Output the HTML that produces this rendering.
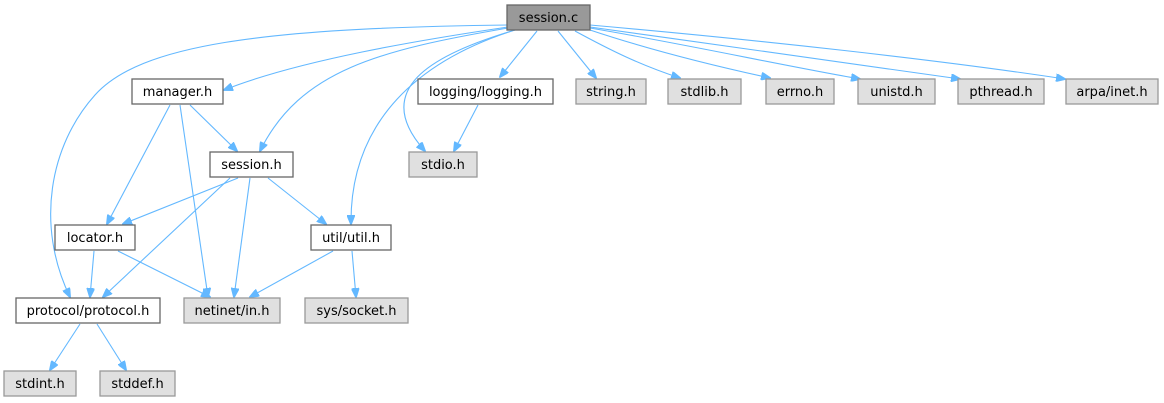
<!DOCTYPE html>
<html><head><meta charset="utf-8"><style>
html,body{margin:0;padding:0;background:#fff;width:1164px;height:403px;overflow:hidden}
text{font-family:"DejaVu Sans","Liberation Sans",sans-serif;font-size:13px;fill:#000;text-anchor:middle}
.w{fill:#fff;stroke:#666;stroke-width:1.3}
.g{fill:#e0e0e0;stroke:#999;stroke-width:1.3}
.r{fill:#999;stroke:#666;stroke-width:1.3}
path{fill:none;stroke:#63b8ff;stroke-width:1.1}
</style></head><body>
<svg width="1164" height="403" viewBox="0 0 1164 403" xmlns="http://www.w3.org/2000/svg">
<defs><marker id="a" markerWidth="10" markerHeight="8" refX="9" refY="4" orient="auto" markerUnits="userSpaceOnUse"><path d="M0,0 L10,4 L0,8 z" style="fill:#63b8ff;stroke:#63b8ff"/></marker></defs>
<g marker-end="url(#a)">
<path d="M508,25 C260,28 140,45 95,95 C50,145 35,225 70,297"/>
<path d="M508,27 C420,40 300,60 224,90"/>
<path d="M508,28 C380,50 300,70 260,151"/>
<path d="M515,30 C420,60 350,120 351,224"/>
<path d="M515,30 C430,55 370,90 425,151"/>
<path d="M537,31 L500,77"/>
<path d="M558,31 L596,78"/>
<path d="M575,31 C610,50 640,65 680,78"/>
<path d="M590,30 C650,50 710,65 770,78"/>
<path d="M590,28 C690,45 780,65 860,79"/>
<path d="M590,27 C720,45 860,65 960,79"/>
<path d="M590,25 C760,40 940,60 1065,79"/>
<path d="M478,105 L454,151"/>
<path d="M190,105 L237,151"/>
<path d="M170,105 L107,224"/>
<path d="M180,105 L208,297"/>
<path d="M238,178 L123,224"/>
<path d="M230,178 L103,297"/>
<path d="M250,178 L234,297"/>
<path d="M268,178 L326,224"/>
<path d="M94,251 L90,297"/>
<path d="M118,251 L210,297"/>
<path d="M333,251 L250,297"/>
<path d="M352,251 L356,297"/>
<path d="M80,324 L50,370"/>
<path d="M97,324 L126,370"/>
</g>
<rect class="r" x="507" y="5" width="83" height="25"/><text x="548.5" y="22">session.c</text>
<rect class="w" x="132" y="79" width="91" height="25"/><text x="177.5" y="96">manager.h</text>
<rect class="w" x="418" y="79" width="135" height="25"/><text x="485.5" y="96">logging/logging.h</text>
<rect class="g" x="576" y="79" width="70" height="25"/><text x="611" y="96">string.h</text>
<rect class="g" x="668" y="79" width="73" height="25"/><text x="704.5" y="96">stdlib.h</text>
<rect class="g" x="766" y="79" width="68" height="25"/><text x="800" y="96">errno.h</text>
<rect class="g" x="858" y="79" width="77" height="25"/><text x="896.5" y="96">unistd.h</text>
<rect class="g" x="958" y="79" width="86" height="25"/><text x="1001" y="96">pthread.h</text>
<rect class="g" x="1066" y="79" width="92" height="25"/><text x="1112" y="96">arpa/inet.h</text>
<rect class="w" x="210" y="152" width="83" height="25"/><text x="251.5" y="169">session.h</text>
<rect class="g" x="409" y="152" width="68" height="25"/><text x="443" y="169">stdio.h</text>
<rect class="w" x="55" y="225" width="80" height="25"/><text x="95" y="242">locator.h</text>
<rect class="w" x="311" y="225" width="80" height="25"/><text x="351" y="242">util/util.h</text>
<rect class="w" x="16" y="298" width="144" height="25"/><text x="88" y="315">protocol/protocol.h</text>
<rect class="g" x="184" y="298" width="96" height="25"/><text x="232" y="315">netinet/in.h</text>
<rect class="g" x="305" y="298" width="103" height="25"/><text x="356.5" y="315">sys/socket.h</text>
<rect class="g" x="4" y="371" width="72" height="25"/><text x="40" y="388">stdint.h</text>
<rect class="g" x="100" y="371" width="75" height="25"/><text x="137.5" y="388">stddef.h</text>
</svg>
</body></html>
